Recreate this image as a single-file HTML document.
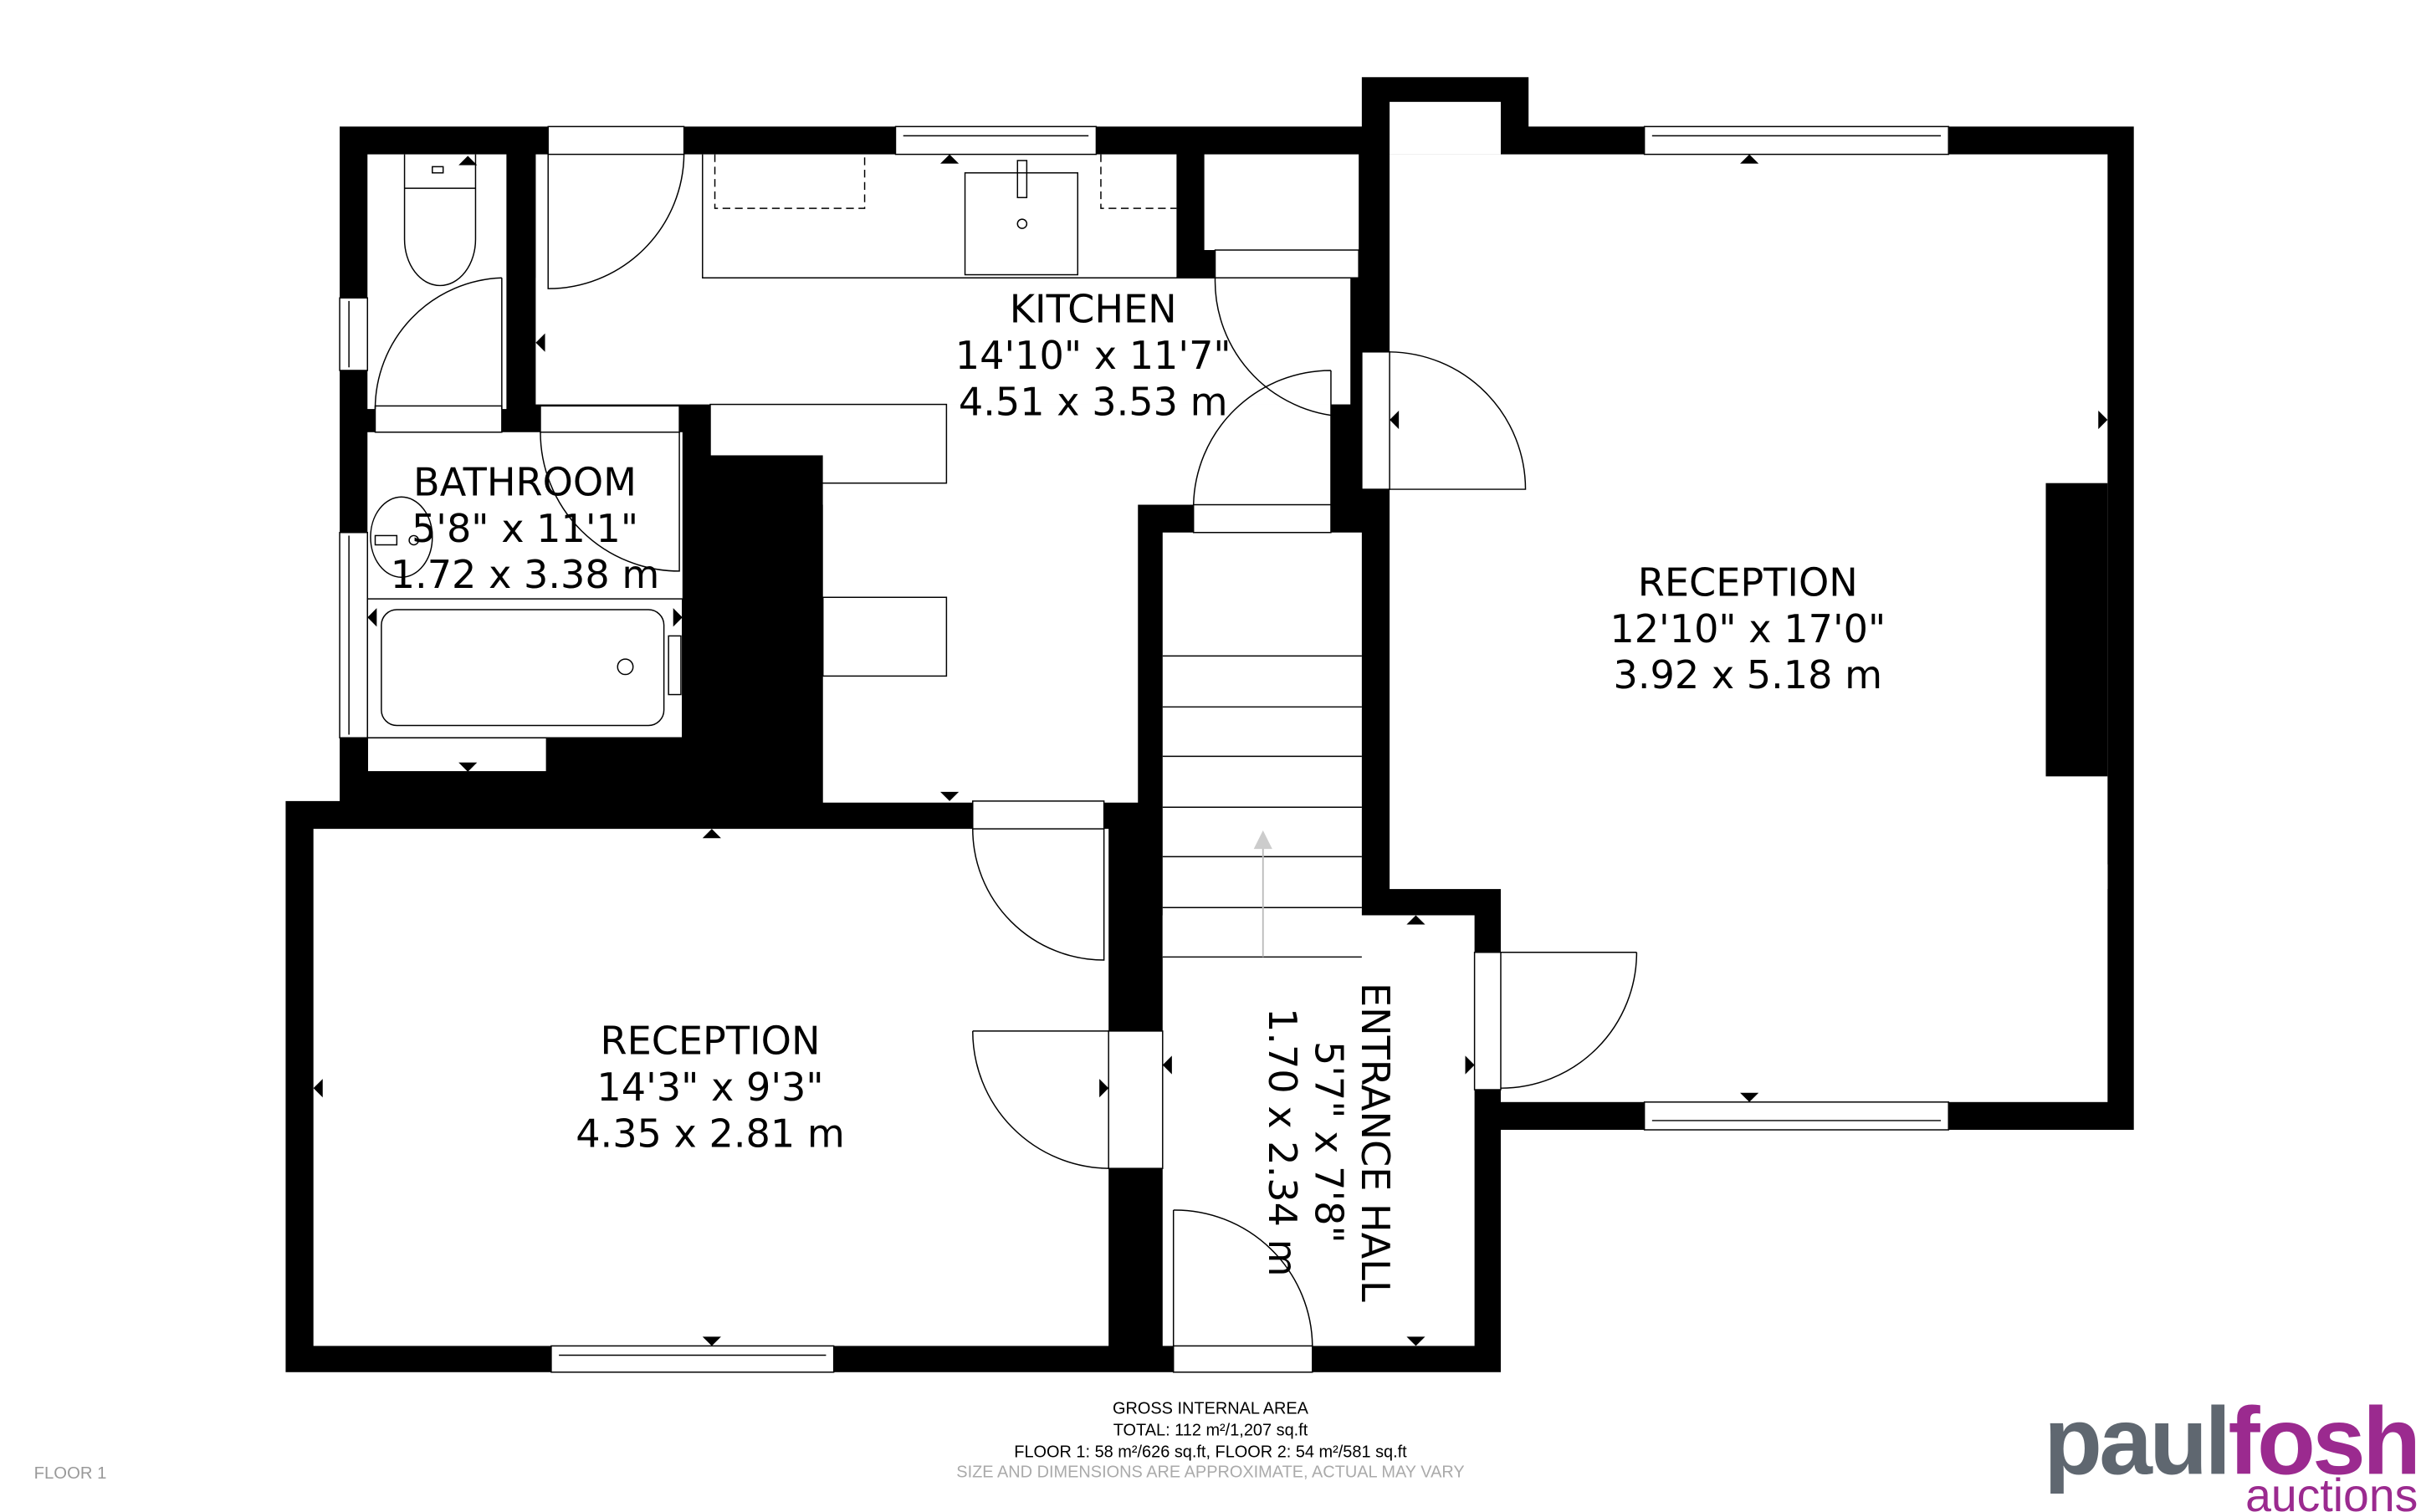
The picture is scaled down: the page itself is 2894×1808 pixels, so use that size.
<!DOCTYPE html>
<html><head><meta charset="utf-8"><style>html,body{margin:0;padding:0;background:#fff}svg{display:block}</style></head><body>
<svg width="2894" height="1808" viewBox="0 0 1568 979.6" preserveAspectRatio="none" xmlns="http://www.w3.org/2000/svg" font-family="'DejaVu Sans','Liberation Sans',sans-serif">
<rect width="1568" height="980" fill="#fff"/>
<g fill="#000">
<rect x="220" y="82" width="680" height="438"/>
<rect x="185" y="519" width="787" height="370"/>
<rect x="882" y="50" width="108" height="50"/>
<rect x="882" y="82" width="500" height="650"/>
</g>
<g fill="#fff">
<rect x="900" y="66" width="72" height="34"/>
<rect x="238" y="100" width="90" height="165"/>
<rect x="238" y="280" width="204" height="198"/>
<rect x="238" y="478" width="116" height="22"/>
<rect x="347" y="100" width="415" height="162"/>
<rect x="347" y="180" width="528" height="82"/>
<rect x="460" y="262" width="402" height="33"/>
<rect x="533" y="262" width="329" height="65"/>
<rect x="533" y="295" width="204" height="225"/>
<rect x="780" y="100" width="100" height="62"/>
<rect x="753" y="345" width="129" height="275"/>
<rect x="753" y="593" width="202" height="279"/>
<rect x="900" y="100" width="465" height="476"/>
<rect x="972" y="560" width="393" height="154"/>
<rect x="203" y="537" width="515" height="335"/>
</g>
<rect x="1325" y="313" width="40" height="190" fill="#000"/>
<g fill="#fff" stroke="#000" stroke-width="0.8">
<rect x="580" y="82" width="130" height="18"/><line x1="585" y1="88" x2="705" y2="88"/>
<rect x="1065" y="82" width="197" height="18"/><line x1="1070" y1="88" x2="1257" y2="88"/>
<rect x="1065" y="714" width="197" height="18"/><line x1="1070" y1="726" x2="1257" y2="726"/>
<rect x="357" y="872" width="183" height="17"/><line x1="362" y1="878" x2="535" y2="878"/>
<rect x="760" y="872" width="90" height="17"/>
<rect x="355" y="82" width="88" height="18"/>
<rect x="220" y="193" width="18" height="47"/><line x1="226" y1="195" x2="226" y2="238"/>
<rect x="220" y="345" width="18" height="133"/><line x1="226" y1="347" x2="226" y2="476"/>
<rect x="243" y="263" width="82" height="17"/>
<rect x="350" y="263" width="90" height="17"/>
<rect x="718" y="668" width="35" height="89"/>
<rect x="955" y="617" width="17" height="89"/>
<rect x="882" y="228" width="18" height="89"/>
<rect x="630" y="519" width="85" height="18"/>
<rect x="773" y="327" width="89" height="18"/>
<rect x="787" y="162" width="93" height="18"/>
<rect x="238" y="478" width="116" height="22"/>
</g>
<g fill="none" stroke="#000" stroke-width="0.8">
<path d="M443,100 A88,88 0 0 1 355,187 L355,100"/>
<path d="M325,180 A85,85 0 0 0 243,265 M325,180 L325,265"/>
<path d="M350,280 A90,90 0 0 0 440,370 L440,280"/>
<path d="M787,180 A88,88 0 0 0 875,270 L875,180"/>
<path d="M862,240 A89,89 0 0 0 773,327 M862,240 L862,327"/>
<path d="M900,228 A89,89 0 0 1 988,317 L900,317"/>
<path d="M630,537 A85,85 0 0 0 715,622 L715,537"/>
<path d="M630,668 A89,89 0 0 0 718,757 M630,668 L718,668"/>
<path d="M1060,617 A88,88 0 0 1 972,705 M972,617 L1060,617"/>
<path d="M760,784 A89,89 0 0 1 850,872 M760,784 L760,872"/>
<path d="M455,100 L455,180 L787,180"/>
<rect x="625" y="112" width="73" height="66"/>
<rect x="659" y="104" width="6" height="24"/>
<circle cx="662" cy="145" r="3"/>
<path d="M463,100 L463,135 L560,135 L560,100 M713,100 L713,135 L762,135" stroke-dasharray="5,3"/>
<rect x="460" y="262" width="153" height="51"/>
<rect x="533" y="387" width="80" height="51"/>
<rect x="238" y="388" width="204" height="90"/>
<rect x="247" y="395" width="183" height="75" rx="10"/>
<circle cx="405" cy="432" r="5"/>
<rect x="433" y="412" width="8" height="38"/>
<path d="M262,100 L262,155 A23,30 0 0 0 308,155 L308,100 M262,122 L308,122"/>
<rect x="280" y="108" width="7" height="4"/>
<ellipse cx="260" cy="348" rx="20" ry="26"/>
<rect x="243" y="347" width="14" height="6"/>
<circle cx="268" cy="350" r="3"/>
<path d="M753,425 H882 M753,458 H882 M753,490 H882 M753,523 H882 M753,555 H882 M753,588 H882 M753,620 H882"/>
</g>
<line x1="818" y1="620" x2="818" y2="548" stroke="#bbb" stroke-width="1"/>
<path d="M812,550 L818,538 L824,550 Z" fill="#ccc"/>
<g fill="#000">
<path d="M297,107 L303,101 L309,107Z"/><path d="M609,106 L615,100 L621,106Z"/><path d="M1127,106 L1133,100 L1139,106Z"/>
<path d="M347,222 L353,216 L353,228Z"/><path d="M882,222 L876,216 L876,228Z"/><path d="M900,272 L906,266 L906,278Z"/>
<path d="M1365,272 L1359,266 L1359,278Z"/><path d="M297,494 L303,500 L309,494Z"/><path d="M609,513 L615,519 L621,513Z"/>
<path d="M455,543 L461,537 L467,543Z"/><path d="M203,705 L209,699 L209,711Z"/><path d="M718,705 L712,699 L712,711Z"/>
<path d="M753,690 L759,684 L759,696Z"/><path d="M955,690 L949,684 L949,696Z"/><path d="M455,866 L461,872 L467,866Z"/>
<path d="M911,599 L917,593 L923,599Z"/><path d="M911,866 L917,872 L923,866Z"/><path d="M1127,708 L1133,714 L1139,708Z"/>
<path d="M238,400 L244,394 L244,406Z"/><path d="M442,400 L436,394 L436,406Z"/>
</g>
<g font-size="25" text-anchor="middle" fill="#000">
<text x="708" y="209">KITCHEN</text><text x="708" y="239">14'10" x 11'7"</text><text x="708" y="269">4.51 x 3.53 m</text>
<text x="340" y="321">BATHROOM</text><text x="340" y="351">5'8" x 11'1"</text><text x="340" y="381">1.72 x 3.38 m</text>
<text x="1132" y="386">RECEPTION</text><text x="1132" y="416">12'10" x 17'0"</text><text x="1132" y="446">3.92 x 5.18 m</text>
<text x="460" y="683">RECEPTION</text><text x="460" y="713">14'3" x 9'3"</text><text x="460" y="743">4.35 x 2.81 m</text>
<g transform="translate(852,740) rotate(90)"><text x="0" y="-30">ENTRANCE HALL</text><text x="0" y="0">5'7" x 7'8"</text><text x="0" y="30">1.70 x 2.34 m</text></g>
</g>
<g font-family="'Liberation Sans',sans-serif" font-size="10.8" text-anchor="middle" fill="#000">
<text x="784" y="916">GROSS INTERNAL AREA</text>
<text x="784" y="930">TOTAL: 112 m²/1,207 sq.ft</text>
<text x="784" y="944">FLOOR 1: 58 m²/626 sq.ft, FLOOR 2: 54 m²/581 sq.ft</text>
<text x="784" y="957" fill="#aaa">SIZE AND DIMENSIONS ARE APPROXIMATE, ACTUAL MAY VARY</text>
</g>
<text x="22" y="958" font-family="'Liberation Sans',sans-serif" font-size="11" fill="#999">FLOOR 1</text>
<text x="1566" y="955" text-anchor="end" font-family="'Liberation Sans',sans-serif" font-size="62" font-weight="bold" letter-spacing="-2"><tspan fill="#5f6770">paul</tspan><tspan fill="#9b2a8f">fosh</tspan></text>
<text x="1566" y="979" text-anchor="end" font-family="'Liberation Sans',sans-serif" font-size="30" fill="#9b2a8f">auctions</text>
</svg>
</body></html>
